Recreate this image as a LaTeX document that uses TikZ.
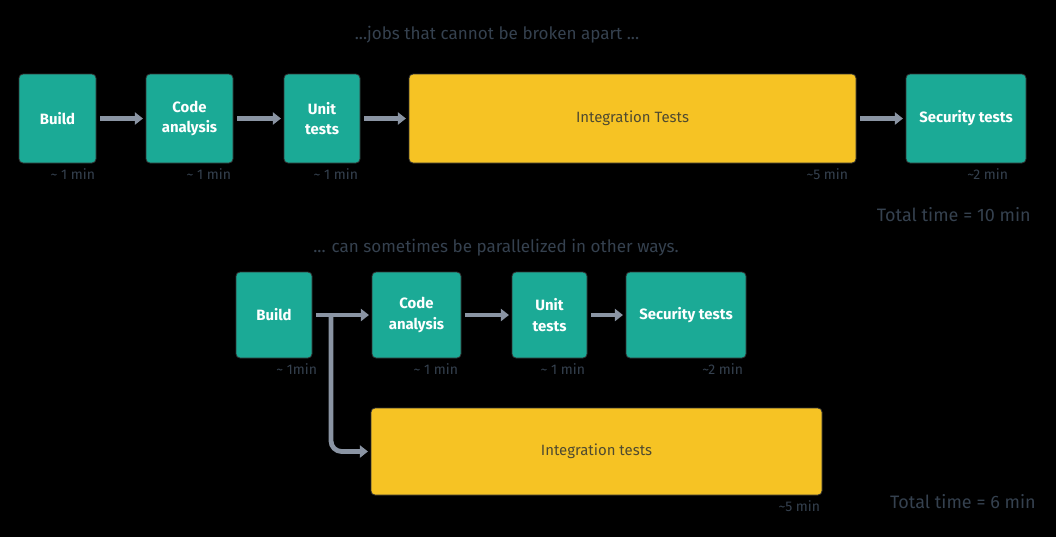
\documentclass[tikz,border=0pt]{standalone}
\usepackage{fontspec}
\setmainfont{Fira Sans}
\usetikzlibrary{arrows.meta,calc}
\definecolor{teal}{HTML}{1BAA96}
\definecolor{gold}{HTML}{F6C324}
\definecolor{arrowgray}{HTML}{8A94A3}
\definecolor{slate}{HTML}{35414F}
\definecolor{olive}{HTML}{4F4A30}
\tikzset{
  jobbox/.style={rounded corners=3pt, draw=black!80, line width=0.6pt, fill=teal,
    text=white, font=\fontsize{11.2}{15.5}\selectfont\bfseries, align=center, inner sep=0pt},
  longbox/.style={jobbox, fill=gold, text=olive, font=\fontsize{11.2}{15.5}\selectfont\mdseries},
  timelabel/.style={anchor=north east, text=slate, font=\fontsize{10.5}{12}\selectfont, inner sep=0pt},
  caption/.style={text=slate, font=\fontsize{12.8}{15}\selectfont, inner sep=0pt},
  total/.style={caption, anchor=east, font=\fontsize{13.5}{15}\selectfont},
  flow/.style={draw=arrowgray, line width=3.6pt, -{Triangle[length=6pt,width=9pt]},
    shorten <=3pt, shorten >=2pt}
}
\begin{document}
\begin{tikzpicture}[x=0.75pt,y=-0.75pt]
\fill[black] (0,0) rectangle (1056,537);
\useasboundingbox (0,0) rectangle (1056,537);

% top row
\node[caption] (t1) at (497,35) {...jobs that cannot be broken apart ...};
\node[jobbox, minimum width=57.75pt, minimum height=66.75pt] (a1) at (57.5,118.5) {Build};
\node[jobbox, minimum width=65.25pt, minimum height=66.75pt] (a2) at (189.5,118.5) {Code\\analysis};
\node[jobbox, minimum width=57pt, minimum height=66.75pt] (a3) at (322,118.5) {Unit\\tests};
\node[longbox, minimum width=335.25pt, minimum height=66.75pt] (a4) at (632.5,118.5) {Integration Tests};
\node[jobbox, minimum width=90pt, minimum height=66.75pt] (a5) at (966,118.5) {Security tests};
\draw[flow] (a1) -- (a2);
\draw[flow] (a2) -- (a3);
\draw[flow] (a3) -- (a4);
\draw[flow] (a4) -- (a5);
\node[timelabel] (l1) at ($(a1.south east)+(-1,5)$) {\textasciitilde\ 1 min};
\node[timelabel] (l2) at ($(a2.south east)+(-2,5)$) {\textasciitilde\ 1 min};
\node[timelabel] (l3) at ($(a3.south east)+(-2,5)$) {\textasciitilde\ 1 min};
\node[timelabel] (l4) at ($(a4.south east)+(-8,5)$) {\textasciitilde 5 min};
\node[timelabel] (l5) at ($(a5.south east)+(-18,5)$) {\textasciitilde 2 min};
\node[total] (tot1) at (1031,215) {Total time = 10 min};

% bottom row
\node[caption] (t2) at (496,248) {... can sometimes be parallelized in other ways.};
\node[jobbox, minimum width=57pt, minimum height=64.5pt] (b1) at (274,315) {Build};
\node[jobbox, minimum width=66.75pt, minimum height=64.5pt] (b2) at (416.5,315) {Code\\analysis};
\node[jobbox, minimum width=56.25pt, minimum height=64.5pt] (b3) at (549.5,315) {Unit\\tests};
\node[jobbox, minimum width=90pt, minimum height=64.5pt] (b4) at (686,315) {Security tests};
\node[longbox, minimum width=338.25pt, minimum height=65.25pt] (b5) at (596.5,451.5) {Integration tests};
\draw[flow] (b1) -- (b2);
\draw[flow] (b2) -- (b3);
\draw[flow] (b3) -- (b4);
\coordinate (split) at (331,315);
\draw[flow, shorten <=0pt, rounded corners=8pt] (split) |- (b5.west);
\node[timelabel] (m1) at ($(b1.south east)+(5,5)$) {\textasciitilde\ 1min};
\node[timelabel] (m2) at ($(b2.south east)+(-3,5)$) {\textasciitilde\ 1 min};
\node[timelabel] (m3) at ($(b3.south east)+(-2,5)$) {\textasciitilde\ 1 min};
\node[timelabel] (m4) at ($(b4.south east)+(-3,5)$) {\textasciitilde 2 min};
\node[timelabel] (m5) at ($(b5.south east)+(-2,5)$) {\textasciitilde 5 min};
\node[total] (tot2) at (1036,502) {Total time = 6 min};
\end{tikzpicture}
\end{document}
